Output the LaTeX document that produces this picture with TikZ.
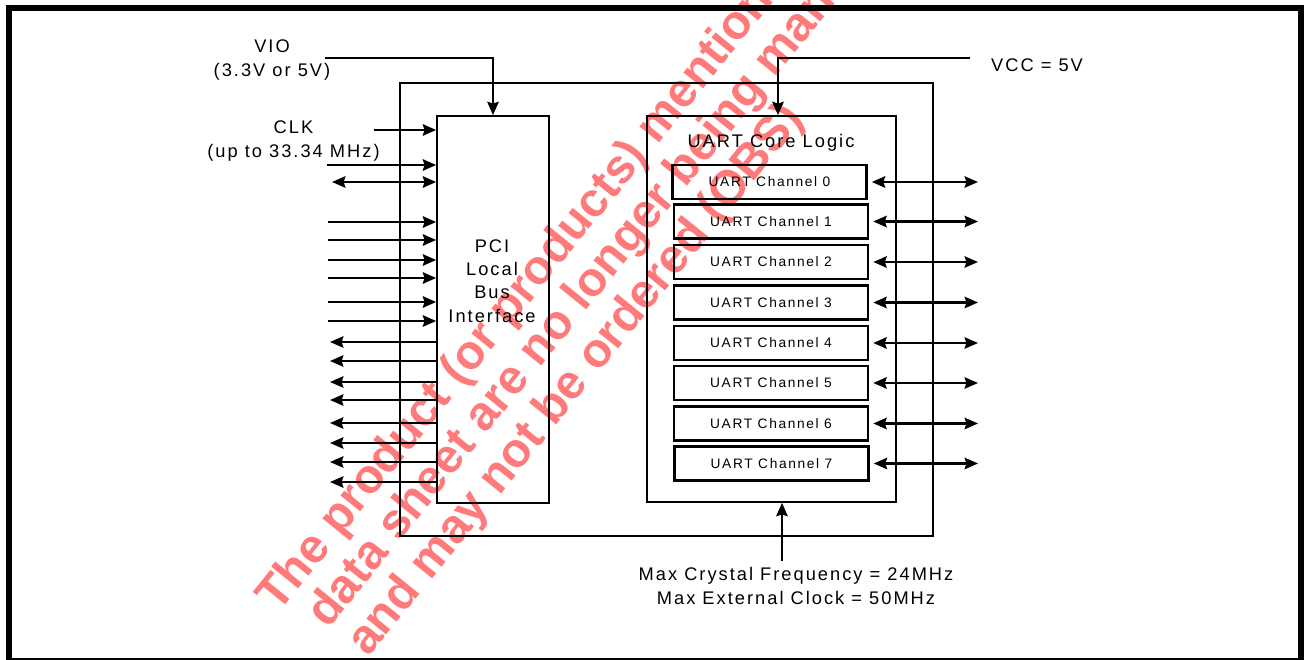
\documentclass[tikz,border=0pt]{standalone}
\usepackage{fontspec}
\usetikzlibrary{arrows.meta,fit}
\newfontfamily\dfont[LetterSpace=11]{Liberation Sans}
\newfontfamily\cfont[LetterSpace=12]{Liberation Sans}
\newfontfamily\wfont{Liberation Sans}
\definecolor{wmred}{RGB}{255,122,122}
\begin{document}
\begin{tikzpicture}[x=0.75pt,y=-0.75pt,
  >={Stealth[length=10pt,width=8.5pt,inset=1.3pt]},
  sig/.style={line width=1.9pt,->},
  bisig/.style={line width=1.9pt,<->},
  blk/.style={draw,line width=1.2pt,inner sep=0pt},
  chan/.style={draw,line width=1.9pt,minimum width=145.5pt,minimum height=25.5pt,inner sep=0pt,font=\cfont\fontsize{10.3}{12}\selectfont},
  lbl/.style={align=center,inner sep=0pt,font=\dfont\fontsize{13.7}{17.5}\selectfont},
  wm/.style={text=wmred,rotate=51,anchor=base west,inner sep=0pt,font=\wfont\bfseries\fontsize{36}{40}\selectfont}]
\useasboundingbox (0,0) rectangle (1304,660);
\clip (0,0) rectangle (1304,660);
% watermark
\node[wm] (wm1) at (278,614) {The product (or products) mentioned in this};
\node[wm] (wm2) at (328,630) {data sheet are no longer being manufactured};
\node[wm] (wm3) at (368,658) {and may not be ordered (OBS)};
% frame
\draw[line width=4.5pt] (9,8) rectangle (1301,661);
% blocks
\node[blk,line width=1.1pt,fit={(400,83) (933,536)}] (chip) {};
\node[blk,fit={(437,116) (549,503)}] (pci) {};
\node[blk,fit={(647,116) (896,502)}] (core) {};
\node[lbl] (pcilbl) at (492,281) {PCI\\Local\\Bus\\Interface};
\node[lbl] (corelbl) at (771,143) {UART Core Logic};
% channels
\node[chan] (ch0) at (769.5,182) {UART Channel 0};
\node[chan] (ch1) at (771,221.5) {UART Channel 1};
\node[chan] (ch2) at (771,262) {UART Channel 2};
\node[chan] (ch3) at (771,302.5) {UART Channel 3};
\node[chan] (ch4) at (771,343) {UART Channel 4};
\node[chan] (ch5) at (771,383) {UART Channel 5};
\node[chan] (ch6) at (771,423.5) {UART Channel 6};
\node[chan] (ch7) at (771.5,463.5) {UART Channel 7};
\coordinate (rx) at (978,0);
\foreach \i in {0,...,7}{
  \draw[bisig] ([xshift=3pt]ch\i.east) -- (ch\i.east -| rx);
}
% labels
\node[lbl] (vio) at (272,60) {VIO\\(3.3V or 5V)};
\node[lbl] (clk) at (293.5,141) {CLK\\(up to 33.34 MHz)};
\node[lbl] (vcc) at (1037,65) {VCC = 5V};
\node[lbl] (xtal) at (796,586) {Max Crystal Frequency = 24MHz\\Max External Clock = 50MHz};
% power
\coordinate (vios) at (325,58);
\draw[sig] (vios) -| (pci.north);
\coordinate (vccs) at (970,58);
\coordinate (vccd) at (778,58);
\draw[sig] (vccs) -- (vccd) -- (vccd |- core.north);
\coordinate (xts) at (782,561);
\draw[sig] (xts) -- (xts |- core.south);
% left side
\coordinate (clks) at (374,130);
\draw[sig] (clks) -- (clks -| pci.west);
\coordinate (ins0) at (327,165);
\draw[sig] (ins0) -- (ins0 -| pci.west);
\coordinate (bis) at (332,182);
\draw[bisig] (bis) -- (bis -| pci.west);
\foreach \y [count=\i] in {222,240,260,278,302,321}{
  \coordinate (in\i) at (328,\y);
  \draw[sig] (in\i) -- (in\i -| pci.west);
}
\foreach \y [count=\i] in {342,361,382,400,423,443,462,482}{
  \coordinate (out\i) at (330,\y);
  \draw[sig] (out\i -| pci.west) -- (out\i);
}
\end{tikzpicture}
\end{document}
